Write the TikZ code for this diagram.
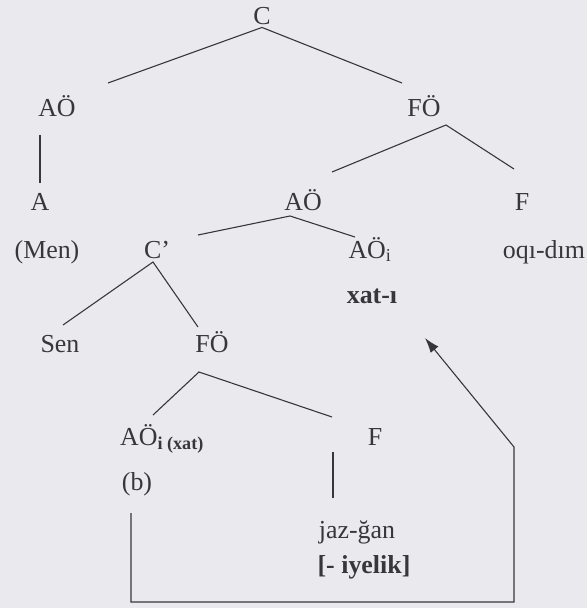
\documentclass[tikz,border=0pt]{standalone}
\usepackage{fontspec}
\setmainfont{Liberation Serif}
\usetikzlibrary{arrows.meta}
\definecolor{paper}{RGB}{234,234,238}
\definecolor{ink}{RGB}{55,55,58}

\begin{document}
\begin{tikzpicture}[
			x=1bp,y=-1bp,
			every node/.style={font=\fontsize{26}{30}\selectfont,text=ink,anchor=base,inner sep=2bp},
			branch/.style={draw=ink,line width=1.1pt},
			move/.style={draw=ink,line width=1.1pt,-{Latex[length=15bp,width=10bp]}},
			]
			\fill[paper] (0,0) rectangle (587,608);
			\useasboundingbox (0,0) rectangle (587,608);
			% upper tree
			\node (C) at (262,25) {C};
			\node (AOa) at (57,117) {AÖ};
			\node (FOa) at (424,117) {FÖ};
			\node (Aa) at (40,210) {A};
			\node (AOb) at (303,210) {AÖ};
			\node (Fa) at (522,210) {F};
			\node (Men) at (47,258) {(Men)};
			\node (Cp) at (157,258) {C'};
			\node (AOi) at (370,258) {AÖ\textsubscript{i}};
			\node (oqi) at (544,258) {oqı-dım};
			\node (xat) at (372,303) {\bfseries xat-ı};
			% lower tree
			\node (Sen) at (60,352) {Sen};
			\node (FOb) at (212,352) {FÖ};
			\node (AOx) at (162,445) {AÖ\textsubscript{\bfseries i (xat)}};
			\node (Fb) at (375,445) {F};
			\node (b) at (137,490) {(b)};
			\node (jaz) at (357,538) {jaz-ğan};
			\node (iye) at (364,573) {\bfseries [- iyelik]};
			% branches
			\draw[branch] ([shift={(51,-34)}]AOa.base) -- (C.south) -- ([shift={(-22,-34)}]FOa.base);
			\draw[branch] ([shift={(-17,18)}]AOa.base) -- ([shift={(0,-27)}]Aa.base);
			\draw[branch] ([shift={(29,-38)}]AOb.base) -- ([shift={(22,8)}]FOa.base) -- ([shift={(-8,-41)}]Fa.base);
			\draw[branch] ([shift={(41,-23)}]Cp.base) -- ([shift={(-13,6)}]AOb.base) -- ([shift={(-15,-21)}]AOi.base);
			\draw[branch] ([shift={(3,-27)}]Sen.base) -- ([shift={(-4,4)}]Cp.base) -- ([shift={(-14,-25)}]FOb.base);
			\draw[branch] ([shift={(-9,-30)}]AOx.base) -- ([shift={(-13,20)}]FOb.base) -- ([shift={(-43,-28)}]Fb.base);
			\draw[branch] ([shift={(-42,7)}]Fb.base) -- ([shift={(-24,-40)}]jaz.base);
			% movement
			\draw[move] ([shift={(-6,23)}]b.base) -- ++(0,89) -- ++(383,0) -- ++(0,-155) -- ([shift={(53,35)}]xat.base);
		\end{tikzpicture}
\end{document}
